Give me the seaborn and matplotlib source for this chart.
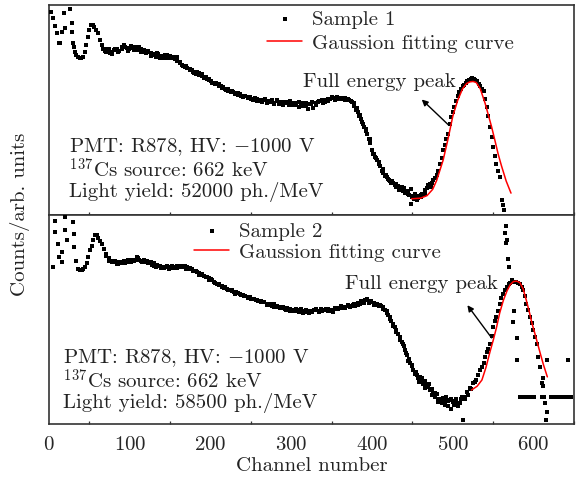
import numpy as np
import pandas as pd
import matplotlib
matplotlib.use("Agg")
import matplotlib.pyplot as plt
import seaborn as sns

# ---------------- data (y in arbitrary units) ----------------
ch1 = [3, 5, 8, 10, 12, 14, 16, 18, 20, 26,
       28, 29, 30, 31, 32, 34, 36, 38, 40, 42,
       44, 46, 48, 50, 52, 54, 56, 58, 61, 63,
       65, 67, 69, 72, 75, 78, 81, 84, 87, 90,
       93, 96, 99, 102, 105, 108, 111, 114, 117, 120,
       123, 126, 129, 132, 135, 138, 141, 144, 147, 150,
       153, 156, 159, 162, 165, 168, 171, 174, 177, 180,
       183, 186, 189, 192, 195, 198, 201, 204, 207, 210,
       213, 216, 219, 222, 225, 228, 231, 234, 237, 240,
       243, 246, 249, 252, 255, 258, 261, 264, 267, 270,
       273, 276, 279, 282, 285, 288, 291, 294, 297, 300,
       303, 306, 309, 312, 315, 318, 321, 324, 327, 330,
       333, 336, 339, 342, 345, 348, 351, 354, 357, 360,
       363, 366, 369, 372, 375, 378, 380, 382, 384, 386,
       388, 390, 392, 394, 396, 398, 400, 402, 404, 406,
       408, 410, 412, 414, 416, 418, 420, 422, 424, 426,
       428, 430, 432, 434, 436, 438, 440, 442, 444, 446,
       448, 450, 452, 454, 456, 458, 460, 462, 464, 466,
       468, 470, 472, 474, 476, 478, 480, 482, 484, 486,
       488, 490, 492, 494, 496, 498, 500, 502, 504, 506,
       508, 510, 512, 514, 516, 518, 520, 522, 524, 526,
       528, 530, 532, 534, 536, 538, 540, 542, 544, 546,
       548, 550, 552, 554, 556, 558, 561, 562, 563, 448]
counts1 = [.968, .94, .90, .866, .82, .818, .87, .96, .89, .98,
           .914, .87, .818, .80, .775, .76, .75, .745, .746, .752,
           .775, .81, .847, .88, .904, .905, .897, .88, .866, .835,
           .809, .79, .782, .79, .772, .775, .785, .79, .78, .80,
           .81, .795, .79, .802, .785, .79, .80, .778, .785, .77,
           .775, .758, .768, .752, .765, .746, .755, .76, .745, .756,
           .752, .74, .735, .722, .715, .705, .70, .688, .692, .675,
           .68, .665, .67, .652, .648, .64, .636, .628, .63, .615,
           .612, .608, .595, .60, .585, .584, .578, .57, .575, .562,
           .565, .556, .56, .548, .555, .542, .548, .538, .55, .54,
           .535, .545, .532, .54, .528, .536, .53, .538, .525, .534,
           .53, .522, .535, .525, .52, .53, .505, .528, .51, .532,
           .535, .54, .53, .548, .542, .55, .555, .548, .56, .556,
           .55, .556, .545, .548, .535, .52, .50, .488, .47, .458,
           .44, .42, .40, .385, .36, .34, .306, .29, .275, .258,
           .25, .23, .21, .20, .185, .177, .17, .16, .152, .148,
           .14, .13, .135, .124, .12, .112, .125, .107, .10, .095,
           .12, .085, .075, .082, .067, .09, .085, .10, .095, .115,
           .125, .13, .145, .15, .163, .175, .19, .21, .24, .27,
           .306, .33, .36, .386, .43, .466, .49, .515, .54, .565,
           .585, .598, .612, .62, .628, .635, .64, .645, .65, .645,
           .642, .635, .625, .612, .60, .59, .55, .514, .47, .418,
           .37, .322, .28, .242, .21, .177, .067, .045, .02, .05]

# second pass of points read between the ones above (the band is thick)
ch1_b = [70.5, 74, 78.5, 82, 86, 90, 94, 98, 102, 106,
         110, 114, 118, 122, 126, 130, 134, 138, 142, 146,
         150, 154, 158, 162, 166, 170, 174, 178, 182, 186,
         190, 194, 198, 202, 206, 210, 214, 218, 222, 226,
         230, 234, 238, 242, 246, 250, 254, 258, 262, 266,
         270, 274, 278, 282, 286, 290, 294, 298, 302, 306,
         310, 314, 318, 322, 326, 330, 334, 338, 342, 346,
         350, 354, 358, 362, 366, 370, 374, 377, 381, 385,
         389, 393, 397, 401, 405, 409, 413, 417, 421, 425,
         429, 433, 437, 441, 445, 449, 453, 457, 461, 465,
         469, 473]
counts1_b = [.775, .788, .768, .79, .775, .79, .80, .782, .795, .80,
             .785, .79, .775, .78, .77, .76, .77, .755, .745, .762,
             .748, .745, .75, .73, .71, .708, .695, .682, .672, .675,
             .66, .655, .648, .63, .625, .622, .605, .60, .588, .59,
             .575, .578, .565, .568, .562, .55, .548, .552, .54, .545,
             .532, .54, .528, .545, .535, .525, .532, .54, .522, .53,
             .515, .532, .52, .528, .535, .522, .54, .545, .538, .55,
             .56, .558, .552, .558, .545, .55, .54, .53, .51, .475,
             .43, .41, .36, .29, .27, .24, .215, .19, .165, .16,
             .145, .118, .13, .105, .11, .09, .10, .078, .095, .10,
             .14, .13]

fit1_ch = [449, 460, 468, 475, 480, 488, 494, 500, 506, 512, 517,
           521, 525, 529, 534, 540, 545, 548, 552, 556, 560, 566, 572]
fit1_y = [.075, .078, .09, .12, .163, .26, .36, .47, .545, .60, .625,
          .633, .635, .63, .60, .53, .46, .418, .355, .29, .235, .16, .102]

ch2 = [4.5, 7.4, 8, 11.6, 12.5, 15.7, 16, 19.8, 20, 22,
       30, 31, 31.5, 34, 36, 38, 40.5, 42.5, 44.6, 46.5,
       48.7, 51, 52.8, 55, 57, 59, 61, 63, 65, 68,
       71, 74, 77.6, 81, 84, 87, 90, 93, 96, 99,
       102, 105, 108.6, 112, 115, 118, 121, 124, 127, 130,
       133, 136, 139, 142, 146, 149, 152, 155, 158, 162,
       165, 168, 170.5, 174, 177, 180, 183, 186, 189, 192,
       195, 198, 201, 204, 207.6, 211, 214, 217, 220, 223,
       226, 229, 232, 236.5, 240, 243, 246, 249, 253, 256,
       259, 262, 265, 269.5, 273, 276, 279, 282, 286, 289,
       292, 295, 298, 302.5, 306, 309, 312, 315, 319, 322,
       325, 328, 331, 334, 337, 340, 343, 346, 349, 352,
       355, 358, 361, 364, 367, 370, 373, 376, 379, 382,
       385, 388, 391, 393, 396, 399, 402, 405.7, 408, 411,
       414, 416, 418, 420, 422, 424, 426, 428, 430, 432,
       434.6, 437, 439, 441, 443, 445, 447, 449, 451, 453,
       455, 457, 459, 461, 463, 465, 467, 469.6, 472, 474,
       476, 478, 480, 482, 484, 486, 488, 490, 492, 494,
       496, 498, 500.6, 502, 504, 506, 509, 511, 513, 515,
       517, 519, 521, 523, 525, 527, 529, 531, 533.6, 536,
       538, 540, 542, 544, 546, 548, 550, 552, 554, 556,
       558, 560, 562.5, 564.5, 566.7, 569, 571, 573, 576, 578,
       580.5, 583, 585, 587, 589, 591, 593, 595.5, 597.5, 599.6,
       601.5, 603.8, 606, 608, 610, 611.6, 614, 616, 615.5, 612,
       566, 565, 566.7, 566, 568.7, 570, 575.7, 574, 579, 580,
       617, 643, 583, 586, 589, 592, 595, 598, 601, 610,
       613, 622, 625, 628, 631, 634, 637, 640, 643, 646]
counts2 = [.749, .971, .916, .861, .797, .773, .82, .987, .924, .88,
           .963, .906, .844, .78, .742, .735, .733, .74, .749, .77,
           .797, .83, .852, .88, .90, .90, .89, .875, .86, .835,
           .813, .79, .78, .772, .765, .775, .768, .778, .773, .78,
           .785, .778, .797, .785, .775, .782, .78, .772, .76, .768,
           .749, .752, .745, .75, .749, .742, .755, .75, .745, .755,
           .748, .752, .749, .74, .738, .73, .725, .72, .715, .705,
           .702, .695, .69, .68, .67, .665, .66, .648, .646, .64,
           .635, .628, .63, .622, .615, .61, .60, .606, .598, .59,
           .585, .588, .58, .575, .57, .565, .572, .56, .559, .555,
           .548, .555, .54, .543, .548, .535, .55, .538, .535, .528,
           .54, .545, .543, .535, .548, .543, .55, .538, .545, .535,
           .548, .555, .552, .56, .558, .565, .559, .57, .565, .578,
           .572, .58, .59, .59, .578, .585, .57, .575, .565, .562,
           .559, .545, .53, .52, .511, .49, .478, .463, .45, .43,
           .416, .39, .37, .352, .33, .30, .289, .275, .26, .241,
           .235, .22, .225, .21, .19, .205, .185, .178, .16, .165,
           .146, .13, .145, .12, .114, .10, .125, .11, .13, .085,
           .115, .12, .106, .09, .12, .10, .098, .13, .019, .12,
           .154, .14, .17, .165, .194, .20, .21, .235, .257, .27,
           .29, .32, .345, .36, .384, .42, .463, .49, .511, .54,
           .575, .60, .622, .64, .654, .67, .675, .686, .68, .678,
           .675, .67, .655, .638, .61, .575, .545, .511, .48, .448,
           .415, .384, .32, .273, .194, .18, .098, .059, .019, .22,
           .944, .91, .88, .865, .786, .748, .54, .486, .41, .306,
           .306, .306, .13, .13, .13, .13, .13, .13, .13, .13,
           .13, .13, .13, .13, .13, .13, .13, .13, .13, .13]

ch2_b = [70, 74, 78, 82, 86, 90, 94, 98, 102, 106,
         110, 114, 118, 122, 126, 130, 134, 138, 142, 146,
         150, 154, 158, 162, 166, 170, 174, 178, 182, 186,
         190, 194, 198, 202, 206, 210, 214, 218, 222, 226,
         230, 234, 238, 242, 246, 250, 254, 258, 262, 266,
         270, 274, 278, 282, 286, 290, 294, 298, 302, 306,
         310, 314, 318, 322, 326, 330, 334, 338, 342, 346,
         350, 354, 358, 362, 366, 370, 374, 378, 382, 386,
         390, 394, 398, 402, 406, 410, 414, 418, 422, 426,
         430, 434, 438, 442, 446, 450, 454, 458, 462, 466,
         470, 474, 478, 482, 486, 490, 494, 498, 502, 506,
         510, 514]
counts2_b = [.80, .78, .772, .78, .765, .775, .77, .785, .775, .785,
             .79, .78, .775, .77, .775, .755, .76, .752, .745, .755,
             .748, .745, .752, .748, .755, .742, .745, .73, .728, .712,
             .71, .70, .688, .685, .672, .67, .655, .655, .642, .638,
             .622, .625, .615, .612, .608, .598, .595, .59, .58, .582,
             .568, .575, .56, .565, .552, .56, .545, .55, .538, .54,
             .545, .53, .542, .538, .535, .548, .54, .538, .545, .548,
             .54, .555, .548, .565, .552, .568, .562, .575, .57, .585,
             .578, .595, .58, .578, .568, .57, .55, .54, .50, .47,
             .44, .40, .38, .34, .31, .28, .25, .20, .22, .17,
             .19, .14, .15, .105, .12, .09, .11, .07, .11, .085,
             .12, .13]

fit2_ch = [523, 530, 536, 541, 546, 550, 554, 558, 562.5, 567, 571,
           575, 579, 583, 587, 591, 595, 598, 601, 604, 608, 612, 617]
fit2_y = [.162, .18, .21, .27, .345, .40, .46, .53, .59, .635, .665,
          .68, .682, .675, .645, .59, .53, .48, .44, .397, .34, .285, .225]

sample_labels = ["Sample 1", "Sample 2"]
fit_label = "Gaussion fitting curve"
info_lines = [
    [r"PMT: R878, HV: $-$1000 V", r"$^{137}$Cs source: 662 keV", "Light yield: 52000 ph./MeV"],
    [r"PMT: R878, HV: $-$1000 V", r"$^{137}$Cs source: 662 keV", "Light yield: 58500 ph./MeV"],
]
peak_label = "Full energy peak"
x_ticks = [0, 100, 200, 300, 400, 500, 600]

# ---------------- style ----------------
sns.set_theme(style="white")
plt.rcParams["font.family"] = ["cmr10", "DejaVu Serif"]
plt.rcParams["mathtext.fontset"] = "cm"
plt.rcParams["axes.formatter.use_mathtext"] = True
plt.rcParams["axes.unicode_minus"] = False
FS = 15
plt.rcParams["font.size"] = FS

fig = plt.figure(figsize=(5.76, 4.83), dpi=100)
L, R = 49 / 576, 574 / 576
B, T = 1 - 424 / 483, 1 - 5 / 483
H = (T - B) / 2
ax1 = fig.add_axes([L, B + H, R - L, H])
ax2 = fig.add_axes([L, B, R - L, H])

panels = [
    dict(ax=ax1, ch=ch1 + ch1_b, y=counts1 + counts1_b, fch=fit1_ch, fy=fit1_y,
         leg=(0.415, 0.976), legsp=0.26, txt_x=0.0375, txt_y=0.327,
         peak_xy=(314.5, 0.632), arr_from=(495, 0.426), arr_to=(461.5, 0.549)),
    dict(ax=ax2, ch=ch2 + ch2_b, y=counts2 + counts2_b, fch=fit2_ch, fy=fit2_y,
         leg=(0.276, 0.963), legsp=0.1, txt_x=0.027, txt_y=0.32,
         peak_xy=(367, 0.667), arr_from=(548, 0.411), arr_to=(518, 0.567)),
]

for i, p in enumerate(panels):
    ax = p["ax"]
    df = pd.DataFrame({"ch": p["ch"], "cnt": p["y"]})
    dff = pd.DataFrame({"ch": p["fch"], "cnt": p["fy"]})
    sns.scatterplot(data=df, x="ch", y="cnt", ax=ax, marker="s", s=9,
                    color="black", linewidth=0, label=sample_labels[i], zorder=3)
    sns.lineplot(data=dff, x="ch", y="cnt", ax=ax, color="red", lw=1.1,
                 sort=False, estimator=None, label=fit_label, zorder=4)
    ax.set_xlim(0, 650)
    ax.set_ylim(0, 1)
    ax.set_xlabel("")
    ax.set_ylabel("")
    ax.set_yticks([])
    ax.set_xticks(x_ticks)
    ax.set_xticks([50, 150, 250, 350, 450, 550, 650], minor=True)
    ax.tick_params(axis="x", which="major", direction="in", length=4.3, width=1.0,
                   color="#333333", pad=8.5, labelsize=FS)
    ax.tick_params(axis="x", which="minor", direction="in", length=2.4, width=0.9,
                   color="#333333", bottom=True)
    for s in ax.spines.values():
        s.set_color("#333333")
        s.set_linewidth(1.2)
    ax.legend(loc="upper left", bbox_to_anchor=p["leg"], frameon=False,
              fontsize=FS, handlelength=1.7, handletextpad=0.45,
              labelspacing=p["legsp"], borderpad=0, borderaxespad=0,
              markerscale=1.0)
    # three info lines as one text block (first line centred at txt_y)
    ax.text(p["txt_x"], p["txt_y"] + 0.045, "\n".join(info_lines[i]),
            transform=ax.transAxes, ha="left", va="top", fontsize=FS,
            color="#222222", linespacing=0.98)
    ax.text(p["peak_xy"][0], p["peak_xy"][1], peak_label, ha="left", va="center",
            fontsize=FS, color="#222222")
    ax.annotate("", xy=p["arr_to"], xytext=p["arr_from"],
                arrowprops=dict(arrowstyle="-|>", color="black", lw=1.0,
                                mutation_scale=9, shrinkA=0, shrinkB=0))

ax1.tick_params(axis="x", labelbottom=False)

fig.text(20 / 576, (B + T) / 2, "Counts/arb. units", rotation=90, ha="center",
         va="center", fontsize=FS, color="#222222")
fig.text((L + R) / 2, 1 - 466 / 483, "Channel number", ha="center", va="center",
         fontsize=FS, color="#222222")

fig.savefig("out.png", dpi=100)
